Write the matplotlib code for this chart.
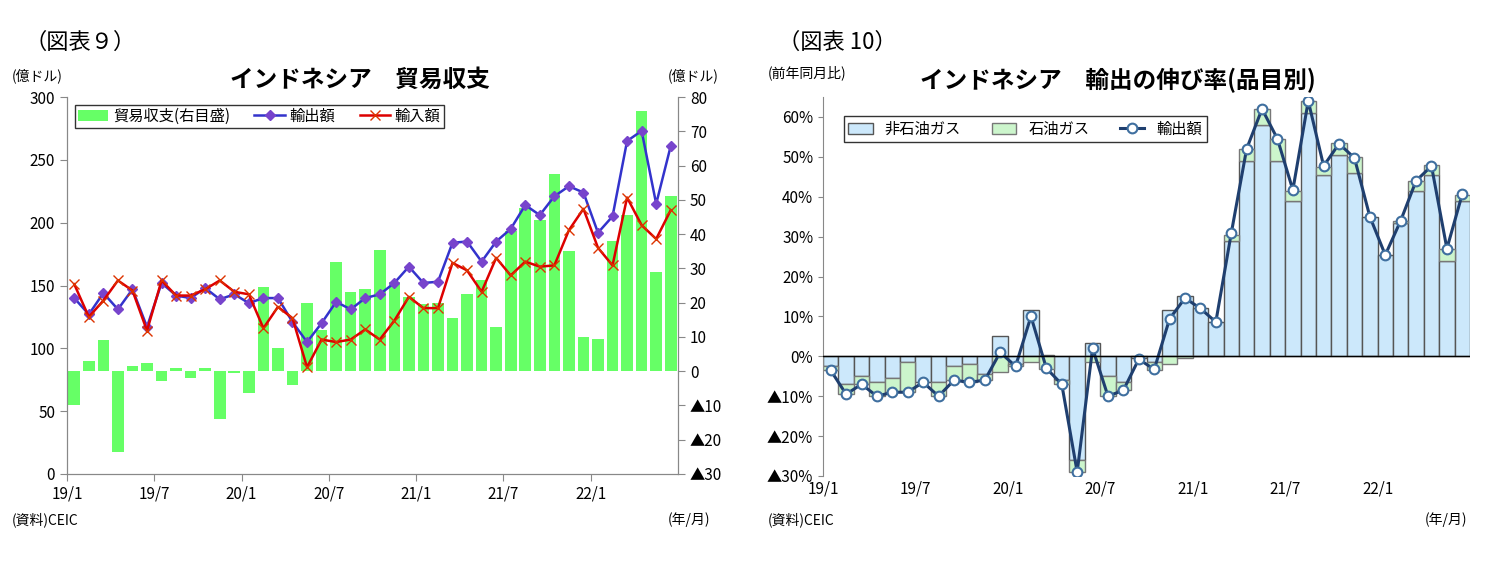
import matplotlib
matplotlib.use("Agg")
import matplotlib.pyplot as plt
from matplotlib.ticker import FuncFormatter
import numpy as np

plt.rcParams["font.family"] = ["Noto Sans CJK JP", "DejaVu Sans"]

# ---- data: 2019/1 - 2022/6 monthly ----
tick_labels = ["19/1", "19/7", "20/1", "20/7", "21/1", "21/7", "22/1"]

exports = [140, 127, 144, 131, 147, 117, 152, 142, 140, 148, 139, 143,
           136, 140, 140, 121, 105, 120, 137, 131, 140, 143, 152, 165,
           152, 153, 184, 185, 169, 185, 195, 214, 206, 221, 229, 224,
           192, 205, 265, 273, 215, 261]
imports = [151, 125, 138, 154, 146, 114, 154, 142, 142, 147, 154, 145,
           143, 116, 133, 124, 85, 107, 105, 107, 115, 107, 122, 141,
           132, 132, 168, 162, 145, 172, 158, 169, 165, 166, 194, 211,
           180, 166, 220, 198, 187, 210]
balance = [-10, 3, 9, -23.5, 1.5, 2.5, -3, 1, -2, 1, -14, -0.5,
           -6.5, 24.5, 6.7, -4, 20, 12, 32, 23, 24, 35.5, 26, 21.5,
           19.5, 20, 15.5, 22.5, 26.5, 13, 41, 47.5, 44, 57.5, 35, 10,
           9.5, 38, 45.5, 76, 29, 51]

export_growth = [-3.5, -9.5, -7, -10, -9, -9, -6.5, -10, -6, -6.5, -6, 1,
                 -2.5, 10, -3, -7, -29, 2, -10, -8.5, -0.7, -3.3, 9.4, 14.6,
                 12, 8.6, 30.8, 52, 62, 54.5, 41.7, 64, 47.7, 53.3, 49.7, 35,
                 25.4, 34, 44, 47.7, 27, 40.7]
non_oil = [-2.5, -7, -5, -6.5, -5.5, -1.5, -6.5, -6.5, -2.5, -2, -4.5, 5,
           -2, 11.5, 0.3, -6, -26, 3.3, -5, -6.5, -0.5, -1.5, 11.5, 15,
           12, 8.7, 29, 49, 58, 49, 39, 61, 45.5, 50.5, 46, 35,
           25.5, 33.5, 41.5, 45.5, 24, 39]
oil = [-1, -2.5, -2, -3.5, -3.5, -7.5, 0, -3.5, -3.5, -4.5, -1.5, -4,
       -0.5, -1.5, -3.3, -1, -3, -1.3, -5, -2, 0, -2, -2, -0.5,
       0, 0, 1.5, 3, 4, 5.5, 2.5, 3, 2, 3, 4, 0,
       0, 0.5, 2.5, 2.5, 3, 1.5]

n = len(exports)
x = np.arange(n) + 0.5

fig = plt.figure(figsize=(15.05, 5.63), dpi=100)
W, H = 1505, 563

def box(l, t, r, b):
    return [l / W, 1 - b / H, (r - l) / W, (b - t) / H]

def tri(v, pct=False):
    s = f"{abs(v):.0f}" + ("%" if pct else "")
    return ("▲" + s) if v < 0 else s

# ---- left chart ----
ax = fig.add_axes(box(67, 97, 678, 474))
ax2 = ax.twinx()
ax.set_zorder(ax2.get_zorder() + 1)
ax.patch.set_visible(False)
ax2.bar(x, balance, width=0.8, color="#66ff66", label="貿易収支(右目盛)", zorder=1)
ax.plot(x, exports, color="#3333cc", marker="D", ms=5, mfc="#7744cc", mec="#7744cc", lw=1.8, label="輸出額")
ax.plot(x, imports, color="#dd0000", marker="x", ms=7, mec="#dd3300", lw=1.8, label="輸入額")
ax.set_xlim(0, n)
ax.set_ylim(0, 300)
ax2.set_ylim(-30, 80)
ax.set_yticks(range(0, 301, 50))
ax2.set_yticks(range(-30, 81, 10))
ax2.yaxis.set_major_formatter(FuncFormatter(lambda v, p: tri(v)))
ax.set_xticks(range(0, 37, 6))
ax.set_xticklabels(tick_labels)
for a in (ax, ax2):
    a.tick_params(labelsize=11, color="#888888", length=5)
    a.spines["top"].set_visible(False)
    for s in ("left", "right", "bottom"):
        a.spines[s].set_color("#888888")
h1, l1 = ax.get_legend_handles_labels()
h2, l2 = ax2.get_legend_handles_labels()
ax.legend(h2 + h1, l2 + l1, ncol=3, loc="upper left", bbox_to_anchor=(0.0, 1.0),
          fontsize=11, frameon=True, fancybox=False, edgecolor="black",
          borderpad=0.2, handlelength=2.0, handletextpad=0.3, columnspacing=1.6)
fig.text(230 / W, 1 - 80 / H, "インドネシア　貿易収支", fontsize=17, fontweight="bold", ha="left", va="center")
fig.text(25 / W, 1 - 42 / H, "（図表９）", fontsize=16, va="center")
fig.text(12 / W, 1 - 76 / H, "(億ドル)", fontsize=10, va="center")
fig.text(668 / W, 1 - 76 / H, "(億ドル)", fontsize=10, va="center")
fig.text(12 / W, 1 - 520 / H, "(資料)CEIC", fontsize=10, va="center")
fig.text(668 / W, 1 - 520 / H, "(年/月)", fontsize=10, va="center")

# ---- right chart ----
bx = fig.add_axes(box(823, 97, 1470, 476))
no = np.array(non_oil)
oi = np.array(oil)
bottom_oil = np.where(oi * no > 0, no, 0)
bx.bar(x, no, width=1.0, color="#cce8fb", edgecolor="#555555", lw=1, label="非石油ガス", zorder=2)
bx.bar(x, oi, width=1.0, bottom=bottom_oil, color="#ccf5cc", edgecolor="#777777", lw=1, label="石油ガス", zorder=2)
bx.plot(x, export_growth, color="#1f3f6f", lw=2.2, marker="o", ms=7, mfc="white", mec="#3f6f9f", mew=1.5,
        label="輸出額", zorder=3)
bx.axhline(0, color="black", lw=1, zorder=4)
bx.set_xlim(0, n)
bx.set_ylim(-30, 65)
bx.set_yticks(range(-30, 61, 10))
bx.yaxis.set_major_formatter(FuncFormatter(lambda v, p: tri(v, True)))
bx.set_xticks(range(0, 37, 6))
bx.set_xticklabels(tick_labels)
bx.tick_params(axis="x", length=0, labelsize=11)
bx.tick_params(axis="y", labelsize=11, color="#888888")
for s in ("top", "right", "bottom"):
    bx.spines[s].set_visible(False)
bx.spines["left"].set_color("#888888")
hb, lb = bx.get_legend_handles_labels()
order = [1, 2, 0]
bx.legend([hb[i] for i in order], [lb[i] for i in order], ncol=3, loc="upper left",
          bbox_to_anchor=(0.02, 0.97), fontsize=11, frameon=True, fancybox=False,
          edgecolor="black", borderpad=0.3, handlelength=1.6, columnspacing=2.0)
fig.text(920 / W, 1 - 80 / H, "インドネシア　輸出の伸び率(品目別)", fontsize=17, fontweight="bold", ha="left", va="center")
fig.text(778 / W, 1 - 42 / H, "（図表 10）", fontsize=16, va="center")
fig.text(768 / W, 1 - 73 / H, "(前年同月比)", fontsize=10, va="center")
fig.text(768 / W, 1 - 520 / H, "(資料)CEIC", fontsize=10, va="center")
fig.text(1425 / W, 1 - 520 / H, "(年/月)", fontsize=10, va="center")

fig.savefig("out.png", dpi=100)
